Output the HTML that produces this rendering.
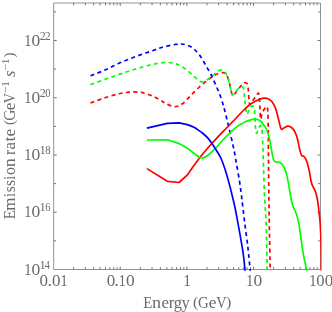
<!DOCTYPE html>
<html><head><meta charset="utf-8"><title>plot</title>
<style>
html,body{margin:0;padding:0;background:#fff;}
body{width:332px;height:312px;overflow:hidden;}
svg{display:block;}
text{font-family:"Liberation Serif",serif;fill:#6a6a6a;}
</style></head><body>
<svg width="332" height="312" viewBox="0 0 332 312">
<rect width="332" height="312" fill="#fff"/>
<defs><clipPath id="c"><rect x="52.78" y="2.00" width="268.72" height="268.70"/></clipPath></defs>
<rect x="53.78" y="3.00" width="266.72" height="266.50" fill="none" stroke="#666666" stroke-width="0.7"/>
<line x1="73.60" y1="269.50" x2="73.60" y2="267.15" stroke="#666666" stroke-width="0.90"/>
<line x1="73.60" y1="3.00" x2="73.60" y2="5.35" stroke="#666666" stroke-width="0.90"/>
<line x1="85.34" y1="269.50" x2="85.34" y2="267.15" stroke="#666666" stroke-width="0.90"/>
<line x1="85.34" y1="3.00" x2="85.34" y2="5.35" stroke="#666666" stroke-width="0.90"/>
<line x1="93.68" y1="269.50" x2="93.68" y2="267.15" stroke="#666666" stroke-width="0.90"/>
<line x1="93.68" y1="3.00" x2="93.68" y2="5.35" stroke="#666666" stroke-width="0.90"/>
<line x1="100.14" y1="269.50" x2="100.14" y2="267.15" stroke="#666666" stroke-width="0.90"/>
<line x1="100.14" y1="3.00" x2="100.14" y2="5.35" stroke="#666666" stroke-width="0.90"/>
<line x1="105.42" y1="269.50" x2="105.42" y2="267.15" stroke="#666666" stroke-width="0.90"/>
<line x1="105.42" y1="3.00" x2="105.42" y2="5.35" stroke="#666666" stroke-width="0.90"/>
<line x1="109.88" y1="269.50" x2="109.88" y2="267.15" stroke="#666666" stroke-width="0.90"/>
<line x1="109.88" y1="3.00" x2="109.88" y2="5.35" stroke="#666666" stroke-width="0.90"/>
<line x1="113.75" y1="269.50" x2="113.75" y2="267.15" stroke="#666666" stroke-width="0.90"/>
<line x1="113.75" y1="3.00" x2="113.75" y2="5.35" stroke="#666666" stroke-width="0.90"/>
<line x1="117.16" y1="269.50" x2="117.16" y2="267.15" stroke="#666666" stroke-width="0.90"/>
<line x1="117.16" y1="3.00" x2="117.16" y2="5.35" stroke="#666666" stroke-width="0.90"/>
<line x1="120.21" y1="269.50" x2="120.21" y2="266.50" stroke="#666666" stroke-width="0.90"/>
<line x1="120.21" y1="3.00" x2="120.21" y2="6.00" stroke="#666666" stroke-width="0.90"/>
<line x1="140.28" y1="269.50" x2="140.28" y2="267.15" stroke="#666666" stroke-width="0.90"/>
<line x1="140.28" y1="3.00" x2="140.28" y2="5.35" stroke="#666666" stroke-width="0.90"/>
<line x1="152.02" y1="269.50" x2="152.02" y2="267.15" stroke="#666666" stroke-width="0.90"/>
<line x1="152.02" y1="3.00" x2="152.02" y2="5.35" stroke="#666666" stroke-width="0.90"/>
<line x1="160.36" y1="269.50" x2="160.36" y2="267.15" stroke="#666666" stroke-width="0.90"/>
<line x1="160.36" y1="3.00" x2="160.36" y2="5.35" stroke="#666666" stroke-width="0.90"/>
<line x1="166.82" y1="269.50" x2="166.82" y2="267.15" stroke="#666666" stroke-width="0.90"/>
<line x1="166.82" y1="3.00" x2="166.82" y2="5.35" stroke="#666666" stroke-width="0.90"/>
<line x1="172.10" y1="269.50" x2="172.10" y2="267.15" stroke="#666666" stroke-width="0.90"/>
<line x1="172.10" y1="3.00" x2="172.10" y2="5.35" stroke="#666666" stroke-width="0.90"/>
<line x1="176.56" y1="269.50" x2="176.56" y2="267.15" stroke="#666666" stroke-width="0.90"/>
<line x1="176.56" y1="3.00" x2="176.56" y2="5.35" stroke="#666666" stroke-width="0.90"/>
<line x1="180.43" y1="269.50" x2="180.43" y2="267.15" stroke="#666666" stroke-width="0.90"/>
<line x1="180.43" y1="3.00" x2="180.43" y2="5.35" stroke="#666666" stroke-width="0.90"/>
<line x1="183.84" y1="269.50" x2="183.84" y2="267.15" stroke="#666666" stroke-width="0.90"/>
<line x1="183.84" y1="3.00" x2="183.84" y2="5.35" stroke="#666666" stroke-width="0.90"/>
<line x1="186.89" y1="269.50" x2="186.89" y2="266.50" stroke="#666666" stroke-width="0.90"/>
<line x1="186.89" y1="3.00" x2="186.89" y2="6.00" stroke="#666666" stroke-width="0.90"/>
<line x1="206.96" y1="269.50" x2="206.96" y2="267.15" stroke="#666666" stroke-width="0.90"/>
<line x1="206.96" y1="3.00" x2="206.96" y2="5.35" stroke="#666666" stroke-width="0.90"/>
<line x1="218.70" y1="269.50" x2="218.70" y2="267.15" stroke="#666666" stroke-width="0.90"/>
<line x1="218.70" y1="3.00" x2="218.70" y2="5.35" stroke="#666666" stroke-width="0.90"/>
<line x1="227.04" y1="269.50" x2="227.04" y2="267.15" stroke="#666666" stroke-width="0.90"/>
<line x1="227.04" y1="3.00" x2="227.04" y2="5.35" stroke="#666666" stroke-width="0.90"/>
<line x1="233.50" y1="269.50" x2="233.50" y2="267.15" stroke="#666666" stroke-width="0.90"/>
<line x1="233.50" y1="3.00" x2="233.50" y2="5.35" stroke="#666666" stroke-width="0.90"/>
<line x1="238.78" y1="269.50" x2="238.78" y2="267.15" stroke="#666666" stroke-width="0.90"/>
<line x1="238.78" y1="3.00" x2="238.78" y2="5.35" stroke="#666666" stroke-width="0.90"/>
<line x1="243.24" y1="269.50" x2="243.24" y2="267.15" stroke="#666666" stroke-width="0.90"/>
<line x1="243.24" y1="3.00" x2="243.24" y2="5.35" stroke="#666666" stroke-width="0.90"/>
<line x1="247.11" y1="269.50" x2="247.11" y2="267.15" stroke="#666666" stroke-width="0.90"/>
<line x1="247.11" y1="3.00" x2="247.11" y2="5.35" stroke="#666666" stroke-width="0.90"/>
<line x1="250.52" y1="269.50" x2="250.52" y2="267.15" stroke="#666666" stroke-width="0.90"/>
<line x1="250.52" y1="3.00" x2="250.52" y2="5.35" stroke="#666666" stroke-width="0.90"/>
<line x1="253.57" y1="269.50" x2="253.57" y2="266.50" stroke="#666666" stroke-width="0.90"/>
<line x1="253.57" y1="3.00" x2="253.57" y2="6.00" stroke="#666666" stroke-width="0.90"/>
<line x1="273.64" y1="269.50" x2="273.64" y2="267.15" stroke="#666666" stroke-width="0.90"/>
<line x1="273.64" y1="3.00" x2="273.64" y2="5.35" stroke="#666666" stroke-width="0.90"/>
<line x1="285.38" y1="269.50" x2="285.38" y2="267.15" stroke="#666666" stroke-width="0.90"/>
<line x1="285.38" y1="3.00" x2="285.38" y2="5.35" stroke="#666666" stroke-width="0.90"/>
<line x1="293.72" y1="269.50" x2="293.72" y2="267.15" stroke="#666666" stroke-width="0.90"/>
<line x1="293.72" y1="3.00" x2="293.72" y2="5.35" stroke="#666666" stroke-width="0.90"/>
<line x1="300.18" y1="269.50" x2="300.18" y2="267.15" stroke="#666666" stroke-width="0.90"/>
<line x1="300.18" y1="3.00" x2="300.18" y2="5.35" stroke="#666666" stroke-width="0.90"/>
<line x1="305.46" y1="269.50" x2="305.46" y2="267.15" stroke="#666666" stroke-width="0.90"/>
<line x1="305.46" y1="3.00" x2="305.46" y2="5.35" stroke="#666666" stroke-width="0.90"/>
<line x1="309.92" y1="269.50" x2="309.92" y2="267.15" stroke="#666666" stroke-width="0.90"/>
<line x1="309.92" y1="3.00" x2="309.92" y2="5.35" stroke="#666666" stroke-width="0.90"/>
<line x1="313.79" y1="269.50" x2="313.79" y2="267.15" stroke="#666666" stroke-width="0.90"/>
<line x1="313.79" y1="3.00" x2="313.79" y2="5.35" stroke="#666666" stroke-width="0.90"/>
<line x1="317.20" y1="269.50" x2="317.20" y2="267.15" stroke="#666666" stroke-width="0.90"/>
<line x1="317.20" y1="3.00" x2="317.20" y2="5.35" stroke="#666666" stroke-width="0.90"/>
<line x1="53.78" y1="240.88" x2="56.13" y2="240.88" stroke="#666666" stroke-width="0.90"/>
<line x1="320.50" y1="240.88" x2="318.15" y2="240.88" stroke="#666666" stroke-width="0.90"/>
<line x1="53.78" y1="212.25" x2="56.78" y2="212.25" stroke="#666666" stroke-width="0.90"/>
<line x1="320.50" y1="212.25" x2="317.50" y2="212.25" stroke="#666666" stroke-width="0.90"/>
<line x1="53.78" y1="183.62" x2="56.13" y2="183.62" stroke="#666666" stroke-width="0.90"/>
<line x1="320.50" y1="183.62" x2="318.15" y2="183.62" stroke="#666666" stroke-width="0.90"/>
<line x1="53.78" y1="155.00" x2="56.78" y2="155.00" stroke="#666666" stroke-width="0.90"/>
<line x1="320.50" y1="155.00" x2="317.50" y2="155.00" stroke="#666666" stroke-width="0.90"/>
<line x1="53.78" y1="126.38" x2="56.13" y2="126.38" stroke="#666666" stroke-width="0.90"/>
<line x1="320.50" y1="126.38" x2="318.15" y2="126.38" stroke="#666666" stroke-width="0.90"/>
<line x1="53.78" y1="97.75" x2="56.78" y2="97.75" stroke="#666666" stroke-width="0.90"/>
<line x1="320.50" y1="97.75" x2="317.50" y2="97.75" stroke="#666666" stroke-width="0.90"/>
<line x1="53.78" y1="69.12" x2="56.13" y2="69.12" stroke="#666666" stroke-width="0.90"/>
<line x1="320.50" y1="69.12" x2="318.15" y2="69.12" stroke="#666666" stroke-width="0.90"/>
<line x1="53.78" y1="40.50" x2="56.78" y2="40.50" stroke="#666666" stroke-width="0.90"/>
<line x1="320.50" y1="40.50" x2="317.50" y2="40.50" stroke="#666666" stroke-width="0.90"/>
<line x1="53.78" y1="11.88" x2="56.13" y2="11.88" stroke="#666666" stroke-width="0.90"/>
<line x1="320.50" y1="11.88" x2="318.15" y2="11.88" stroke="#666666" stroke-width="0.90"/>
<g clip-path="url(#c)" fill="none" stroke-width="1.7" stroke-linejoin="round">
<path d="M90.50 103.00 C92.92 102.13 100.08 99.38 105.00 97.80 C109.92 96.22 115.21 94.48 120.00 93.50 C124.79 92.52 129.58 91.93 133.75 91.90 C137.92 91.87 141.46 92.42 145.00 93.30 C148.54 94.18 152.08 95.85 155.00 97.20 C157.92 98.55 160.62 100.31 162.50 101.40 C164.38 102.49 164.17 102.86 166.25 103.75 C168.33 104.64 172.29 106.75 175.00 106.75 C177.71 106.75 180.00 105.50 182.50 103.75 C185.00 102.00 187.29 98.96 190.00 96.25 C192.71 93.54 195.83 90.21 198.75 87.50 C201.67 84.79 204.79 82.08 207.50 80.00 C210.21 77.92 213.08 76.13 215.00 75.00 C216.92 73.87 217.77 73.60 219.00 73.20 C220.23 72.80 221.40 72.63 222.40 72.60 C223.40 72.57 224.30 72.60 225.00 73.00 C225.70 73.40 226.05 74.00 226.60 75.00 C227.15 76.00 227.73 77.25 228.30 79.00 C228.87 80.75 229.52 83.50 230.00 85.50 C230.48 87.50 230.80 89.38 231.20 91.00 C231.60 92.62 231.80 94.73 232.40 95.20 C233.00 95.67 233.93 94.70 234.80 93.80 C235.67 92.90 236.65 91.02 237.60 89.80 C238.55 88.58 239.68 87.47 240.50 86.50 C241.32 85.53 241.80 84.65 242.50 84.00 C243.20 83.35 243.92 82.63 244.70 82.60 C245.48 82.57 246.63 82.98 247.20 83.80 C247.77 84.62 247.87 85.75 248.10 87.50 C248.33 89.25 248.42 91.85 248.60 94.30 C248.78 96.75 248.98 100.47 249.20 102.20 C249.42 103.93 249.52 104.65 249.90 104.70 C250.28 104.75 250.77 103.52 251.50 102.50 C252.23 101.48 253.38 99.93 254.30 98.60 C255.22 97.27 256.28 95.42 257.00 94.50 C257.72 93.58 258.22 92.85 258.60 93.10 C258.98 93.35 259.13 94.78 259.30 96.00 C259.47 97.22 259.48 98.32 259.60 100.40 C259.72 102.48 259.87 105.65 260.00 108.50 C260.13 111.35 260.25 115.75 260.40 117.50 C260.55 119.25 260.60 119.75 260.90 119.00 C261.20 118.25 261.47 114.90 262.20 113.00 C262.93 111.10 264.58 108.70 265.30 107.60 C266.02 106.50 266.15 106.37 266.50 106.40 C266.85 106.43 267.18 106.95 267.40 107.80 C267.62 108.65 267.68 109.40 267.80 111.50 C267.92 113.60 268.02 117.08 268.10 120.40" stroke="#ff0000" stroke-dasharray="4.00 3.40" stroke-dashoffset="0.00"/>
<path d="M268.10 120.40 C268.18 123.72 268.23 124.18 268.30 131.40 C268.37 138.62 268.40 152.27 268.50 163.70 C268.60 175.13 268.77 189.78 268.90 200.00 C269.03 210.22 269.08 213.60 269.30 225.00 C269.52 236.40 270.03 260.57 270.20 268.40 C270.37 276.23 270.28 271.40 270.30 272.00" stroke="#ff0000" stroke-dasharray="4.00 3.40" stroke-dashoffset="5.07"/>
<path d="M90.50 84.60 C92.92 83.73 100.08 81.15 105.00 79.40 C109.92 77.65 115.00 75.80 120.00 74.10 C125.00 72.40 130.00 70.72 135.00 69.20 C140.00 67.68 145.83 66.03 150.00 65.00 C154.17 63.97 156.88 63.42 160.00 63.00 C163.12 62.58 165.83 62.25 168.75 62.50 C171.67 62.75 174.79 63.46 177.50 64.50 C180.21 65.54 182.50 67.00 185.00 68.75 C187.50 70.50 190.21 73.04 192.50 75.00 C194.79 76.96 197.08 79.38 198.75 80.50 C200.42 81.62 200.83 82.04 202.50 81.75 C204.17 81.46 206.67 80.08 208.75 78.75 C210.83 77.42 213.44 75.03 215.00 73.75 C216.56 72.47 217.18 71.69 218.10 71.10 C219.02 70.51 219.48 70.20 220.50 70.20 C221.52 70.20 223.28 70.53 224.20 71.10 C225.12 71.67 225.38 72.47 226.00 73.60 C226.62 74.73 227.28 76.07 227.90 77.90 C228.52 79.73 229.20 82.47 229.70 84.60 C230.20 86.73 230.50 88.98 230.90 90.70 C231.30 92.42 231.48 94.43 232.10 94.90 C232.72 95.37 233.68 94.42 234.60 93.50 C235.52 92.58 236.55 90.45 237.60 89.40 C238.65 88.35 240.12 87.62 240.90 87.20 C241.68 86.78 241.87 86.73 242.30 86.90 C242.73 87.07 243.17 87.07 243.50 88.20 C243.83 89.33 244.08 91.67 244.30 93.70 C244.52 95.73 244.60 98.18 244.80 100.40 C245.00 102.62 245.17 104.70 245.50 107.00 C245.83 109.30 246.25 113.62 246.80 114.20 C247.35 114.78 248.10 111.78 248.80 110.50 C249.50 109.22 250.33 107.25 251.00 106.50 C251.67 105.75 252.25 105.72 252.80 106.00 C253.35 106.28 253.95 106.20 254.30 108.20 C254.65 110.20 254.72 114.95 254.90 118.00 C255.08 121.05 255.18 124.07 255.40 126.50 C255.62 128.93 255.95 131.52 256.20 132.60 C256.45 133.68 256.57 133.50 256.90 133.00 C257.23 132.50 257.73 130.72 258.20 129.60 C258.67 128.48 259.28 126.97 259.70 126.30 C260.12 125.63 260.38 125.48 260.70 125.60 C261.02 125.72 261.37 126.18 261.60 127.00 C261.83 127.82 261.95 128.67 262.10 130.50 C262.25 132.33 262.35 134.73 262.50 138.00" stroke="#00ff00" stroke-dasharray="4.00 3.40" stroke-dashoffset="0.00"/>
<path d="M262.50 138.00 C262.65 141.27 262.78 143.93 263.00 150.10 C263.22 156.27 263.52 166.68 263.80 175.00 C264.08 183.32 264.30 191.67 264.70 200.00 C265.10 208.33 265.80 213.60 266.20 225.00 C266.60 236.40 266.93 260.57 267.10 268.40 C267.27 276.23 267.18 271.40 267.20 272.00" stroke="#00ff00" stroke-dasharray="4.00 3.40" stroke-dashoffset="4.90"/>
<path d="M90.50 75.80 C92.92 74.83 100.08 72.17 105.00 70.00 C109.92 67.83 115.00 65.00 120.00 62.80 C125.00 60.60 130.00 58.67 135.00 56.80 C140.00 54.93 145.42 53.19 150.00 51.60 C154.58 50.01 158.33 48.43 162.50 47.25 C166.67 46.07 171.88 45.04 175.00 44.50 C178.12 43.96 178.96 43.79 181.25 44.00 C183.54 44.21 186.46 44.75 188.75 45.75 C191.04 46.75 192.92 48.04 195.00 50.00 C197.08 51.96 199.38 54.79 201.25 57.50 C203.12 60.21 204.58 63.33 206.25 66.25 C207.92 69.17 209.58 71.67 211.25 75.00 C212.92 78.33 214.79 82.92 216.25 86.25 C217.71 89.58 218.88 92.00 220.00 95.00 C221.12 98.00 222.20 101.62 223.00 104.25 C223.80 106.88 224.05 107.89 224.80 110.80 C225.55 113.71 226.58 117.92 227.50 121.70 C228.42 125.48 229.38 129.58 230.30 133.50 C231.22 137.42 232.25 141.75 233.00 145.20 C233.75 148.65 234.20 150.98 234.80 154.20 C235.40 157.42 235.83 160.08 236.60 164.50 C237.37 168.92 238.63 175.88 239.40 180.70 C240.17 185.52 240.67 189.32 241.20 193.40 C241.73 197.48 242.00 200.18 242.60 205.20 C243.20 210.22 244.03 217.43 244.80 223.50 C245.57 229.57 246.57 236.48 247.20 241.60 C247.83 246.72 248.13 249.73 248.60 254.20 C249.07 258.67 249.75 265.43 250.00 268.40 C250.25 271.37 250.08 271.40 250.10 272.00" stroke="#0000ff" stroke-dasharray="4.00 3.40" stroke-dashoffset="0.00"/>
<path d="M146.90 168.60 L167.30 181.30 L179.10 182.50 L187.40 174.90 C188.46 173.38 191.44 168.98 193.75 165.80 C196.06 162.62 198.54 159.18 201.25 155.80 C203.96 152.42 207.29 148.58 210.00 145.50 C212.71 142.42 215.18 139.77 217.50 137.30 C219.82 134.83 221.02 133.67 223.90 130.70 C226.78 127.73 231.57 122.87 234.80 119.50 C238.03 116.13 240.67 113.08 243.30 110.50 C245.93 107.92 248.15 105.75 250.60 104.00 C253.05 102.25 255.77 100.97 258.00 100.00 C260.23 99.03 262.25 98.38 264.00 98.20 C265.75 98.02 267.17 98.30 268.50 98.90 C269.83 99.50 270.85 100.30 272.00 101.80 C273.15 103.30 274.42 105.42 275.40 107.90 C276.38 110.38 277.08 113.58 277.90 116.70 C278.72 119.82 279.68 124.48 280.30 126.60 C280.92 128.72 280.93 129.22 281.60 129.40 C282.27 129.58 283.25 128.25 284.30 127.70 C285.35 127.15 286.70 126.13 287.90 126.10 C289.10 126.07 290.30 126.50 291.50 127.50 C292.70 128.50 294.05 129.98 295.10 132.10 C296.15 134.22 297.05 137.38 297.80 140.20 C298.55 143.02 298.98 146.47 299.60 149.00 C300.22 151.53 300.73 154.10 301.50 155.40 C302.27 156.70 303.30 155.75 304.20 156.80 C305.10 157.85 306.07 159.38 306.90 161.70 C307.73 164.02 308.52 167.53 309.20 170.70 C309.88 173.87 310.48 178.28 311.00 180.70 C311.52 183.12 311.68 183.67 312.30 185.20 C312.92 186.73 314.00 188.22 314.70 189.90 C315.40 191.58 315.97 193.17 316.50 195.30 C317.03 197.43 317.48 199.97 317.90 202.70 C318.32 205.43 318.63 208.40 319.00 211.70 C319.37 215.00 319.80 218.53 320.10 222.50 C320.40 226.47 320.62 230.92 320.80 235.50 C320.98 240.08 321.12 243.92 321.20 250.00 C321.28 256.08 321.28 268.33 321.30 272.00" stroke="#ff0000"/>
<path d="M146.90 140.00 L167.30 139.80 L179.10 143.60 L187.40 148.20 C188.46 149.03 191.65 151.65 193.75 153.20 C195.85 154.75 198.46 156.70 200.00 157.50 C201.54 158.30 201.73 158.33 203.00 158.00 C204.27 157.67 205.81 156.83 207.60 155.50 C209.39 154.17 212.23 151.42 213.75 150.00 C215.27 148.58 214.71 149.17 216.70 147.00 C218.69 144.83 222.68 140.12 225.70 137.00 C228.72 133.88 232.27 130.42 234.80 128.30 C237.33 126.18 239.07 125.42 240.90 124.30 C242.73 123.18 244.18 122.35 245.80 121.60 C247.42 120.85 248.98 120.20 250.60 119.80 C252.22 119.40 253.87 119.00 255.50 119.20 C257.13 119.40 258.98 119.98 260.40 121.00 C261.82 122.02 263.02 123.97 264.00 125.30 C264.98 126.63 265.57 127.38 266.30 129.00 C267.03 130.62 267.82 133.08 268.40 135.00 C268.98 136.92 269.20 137.55 269.80 140.50 C270.40 143.45 271.37 149.45 272.00 152.70 C272.63 155.95 272.92 158.45 273.60 160.00 C274.28 161.55 275.07 161.60 276.10 162.00 C277.13 162.40 278.58 161.70 279.80 162.40 C281.02 163.10 282.35 164.52 283.40 166.20 C284.45 167.88 285.35 170.08 286.10 172.50 C286.85 174.92 287.33 177.87 287.90 180.70 C288.47 183.53 288.97 186.45 289.50 189.50 C290.03 192.55 290.52 196.20 291.10 199.00 C291.68 201.80 292.27 204.18 293.00 206.30 C293.73 208.42 294.70 209.60 295.50 211.70 C296.30 213.80 297.15 216.35 297.80 218.90 C298.45 221.45 298.88 223.87 299.40 227.00 C299.92 230.13 300.35 233.82 300.90 237.70 C301.45 241.58 302.07 246.38 302.70 250.30 C303.33 254.22 304.07 258.03 304.70 261.20 C305.33 264.37 306.12 267.50 306.50 269.30 C306.88 271.10 306.92 271.55 307.00 272.00" stroke="#00ff00"/>
<path d="M146.90 128.20 L167.30 123.40 L179.10 122.90 L187.40 124.60 C188.48 125.05 192.22 126.48 193.90 127.30 C195.58 128.12 195.98 128.47 197.50 129.50 C199.02 130.53 201.15 131.93 203.00 133.50 C204.85 135.07 206.92 136.95 208.60 138.90 C210.28 140.85 211.73 143.18 213.10 145.20 C214.47 147.22 215.43 148.70 216.80 151.00 C218.17 153.30 219.80 155.55 221.30 159.00 C222.80 162.45 224.45 167.47 225.80 171.70 C227.15 175.93 228.35 180.48 229.40 184.40 C230.45 188.32 231.25 191.73 232.10 195.20 C232.95 198.67 233.73 201.68 234.50 205.20 C235.27 208.72 235.73 211.13 236.70 216.30 C237.67 221.47 239.18 229.72 240.30 236.20 C241.42 242.68 242.63 249.68 243.40 255.20 C244.17 260.72 244.62 266.50 244.90 269.30 C245.18 272.10 245.07 271.55 245.10 272.00" stroke="#0000ff"/>
</g>
<g style="filter:grayscale(1)">
<text transform="translate(24.13 274.60) scale(0.905 1)" font-size="16.00">1</text>
<text transform="translate(31.44 274.60) scale(1.091 1)" font-size="16.00">0</text>
<text transform="translate(39.40 268.70) scale(1.077 1)" font-size="11.60">1</text>
<text transform="translate(44.63 268.70) scale(0.880 1)" font-size="11.60">4</text>
<text transform="translate(24.13 217.35) scale(0.905 1)" font-size="16.00">1</text>
<text transform="translate(31.44 217.35) scale(1.091 1)" font-size="16.00">0</text>
<text transform="translate(39.40 211.45) scale(1.077 1)" font-size="11.60">1</text>
<text transform="translate(45.15 211.45) scale(0.908 1)" font-size="11.60">6</text>
<text transform="translate(24.13 160.10) scale(0.905 1)" font-size="16.00">1</text>
<text transform="translate(31.44 160.10) scale(1.091 1)" font-size="16.00">0</text>
<text transform="translate(39.40 154.20) scale(1.077 1)" font-size="11.60">1</text>
<text transform="translate(45.20 154.20) scale(0.915 1)" font-size="11.60">8</text>
<text transform="translate(24.13 102.85) scale(0.905 1)" font-size="16.00">1</text>
<text transform="translate(31.44 102.85) scale(1.091 1)" font-size="16.00">0</text>
<text transform="translate(39.77 96.95) scale(1.032 1)" font-size="11.60">2</text>
<text transform="translate(45.20 96.95) scale(0.915 1)" font-size="11.60">0</text>
<text transform="translate(24.13 45.60) scale(0.905 1)" font-size="16.00">1</text>
<text transform="translate(31.44 45.60) scale(1.091 1)" font-size="16.00">0</text>
<text transform="translate(39.77 39.70) scale(1.032 1)" font-size="11.60">2</text>
<text transform="translate(45.11 39.70) scale(0.968 1)" font-size="11.60">2</text>
<text transform="translate(39.55 285.80) scale(1.062 1)" font-size="16.00">0</text>
<text transform="translate(47.49 285.80) scale(1.140 1)" font-size="16.00">.</text>
<text transform="translate(52.05 285.80) scale(1.062 1)" font-size="16.00">0</text>
<text transform="translate(60.46 285.80) scale(0.880 1)" font-size="16.00">1</text>
<text transform="translate(106.65 285.80) scale(1.062 1)" font-size="16.00">0</text>
<text transform="translate(114.22 285.80) scale(1.140 1)" font-size="16.00">.</text>
<text transform="translate(118.78 285.80) scale(0.880 1)" font-size="16.00">1</text>
<text transform="translate(126.04 285.80) scale(1.091 1)" font-size="16.00">0</text>
<text transform="translate(183.61 285.80) scale(0.914 1)" font-size="16.00">1</text>
<text transform="translate(246.28 285.80) scale(0.880 1)" font-size="16.00">1</text>
<text transform="translate(253.54 285.80) scale(1.091 1)" font-size="16.00">0</text>
<text transform="translate(309.23 285.80) scale(0.905 1)" font-size="16.00">1</text>
<text transform="translate(316.37 285.80) scale(1.040 1)" font-size="16.00">0</text>
<text transform="translate(324.75 285.80) scale(1.062 1)" font-size="16.00">0</text>
<text transform="translate(143.17 307.70) scale(0.934 1)" font-size="15.90">E</text>
<text transform="translate(151.90 307.70) scale(1.140 1)" font-size="15.90">n</text>
<text transform="translate(161.54 307.70) scale(1.071 1)" font-size="15.90">e</text>
<text transform="translate(168.66 307.70) scale(1.054 1)" font-size="15.90">r</text>
<text transform="translate(173.79 307.70) scale(1.034 1)" font-size="15.90">g</text>
<text transform="translate(181.60 307.70) scale(1.040 1)" font-size="15.90">y</text>
<text transform="translate(193.02 306.80) scale(1.059 1)" font-size="14.71">(</text>
<text transform="translate(198.09 307.70) scale(0.939 1)" font-size="15.90">G</text>
<text transform="translate(208.72 307.70) scale(1.088 1)" font-size="15.90">e</text>
<text transform="translate(216.24 307.70) scale(0.890 1)" font-size="15.90">V</text>
<text transform="translate(225.99 306.80) scale(1.085 1)" font-size="14.71">)</text>
<g transform="translate(14.9 218.9) rotate(-90)">
<text transform="translate(-0.43 0.00) scale(0.945 1)" font-size="15.90">E</text>
<text transform="translate(8.04 0.00) scale(1.069 1)" font-size="15.90">m</text>
<text transform="translate(21.94 0.00) scale(0.880 1)" font-size="15.90">i</text>
<text transform="translate(26.67 0.00) scale(0.968 1)" font-size="15.90">s</text>
<text transform="translate(32.87 0.00) scale(0.968 1)" font-size="15.90">s</text>
<text transform="translate(39.24 0.00) scale(0.880 1)" font-size="15.90">i</text>
<text transform="translate(44.00 0.00) scale(0.994 1)" font-size="15.90">o</text>
<text transform="translate(51.90 0.00) scale(1.103 1)" font-size="15.90">n</text>
<text transform="translate(63.98 0.00) scale(0.992 1)" font-size="15.90">r</text>
<text transform="translate(69.50 0.00) scale(1.067 1)" font-size="15.90">a</text>
<text transform="translate(77.52 0.00) scale(1.127 1)" font-size="15.90">t</text>
<text transform="translate(82.34 0.00) scale(1.071 1)" font-size="15.90">e</text>
<text transform="translate(93.95 -0.90) scale(1.006 1)" font-size="14.71">(</text>
<text transform="translate(98.27 0.00) scale(0.968 1)" font-size="15.90">G</text>
<text transform="translate(108.74 0.00) scale(1.071 1)" font-size="15.90">e</text>
<text transform="translate(115.55 0.00) scale(0.880 1)" font-size="15.90">V</text>
<text transform="translate(142.00 0.00) scale(1.034 1)" font-size="15.90" font-style="italic">s</text>
<text transform="translate(161.42 -0.90) scale(1.006 1)" font-size="14.71">)</text>
<text transform="translate(125.72 -6.10) scale(1.140 1)" font-size="10.80">−</text>
<text transform="translate(132.20 -6.10) scale(1.052 1)" font-size="10.80">1</text>
<text transform="translate(148.33 -6.10) scale(1.055 1)" font-size="10.80">−</text>
<text transform="translate(154.60 -6.10) scale(1.052 1)" font-size="10.80">1</text>
</g>
</g>
</svg>
</body></html>
